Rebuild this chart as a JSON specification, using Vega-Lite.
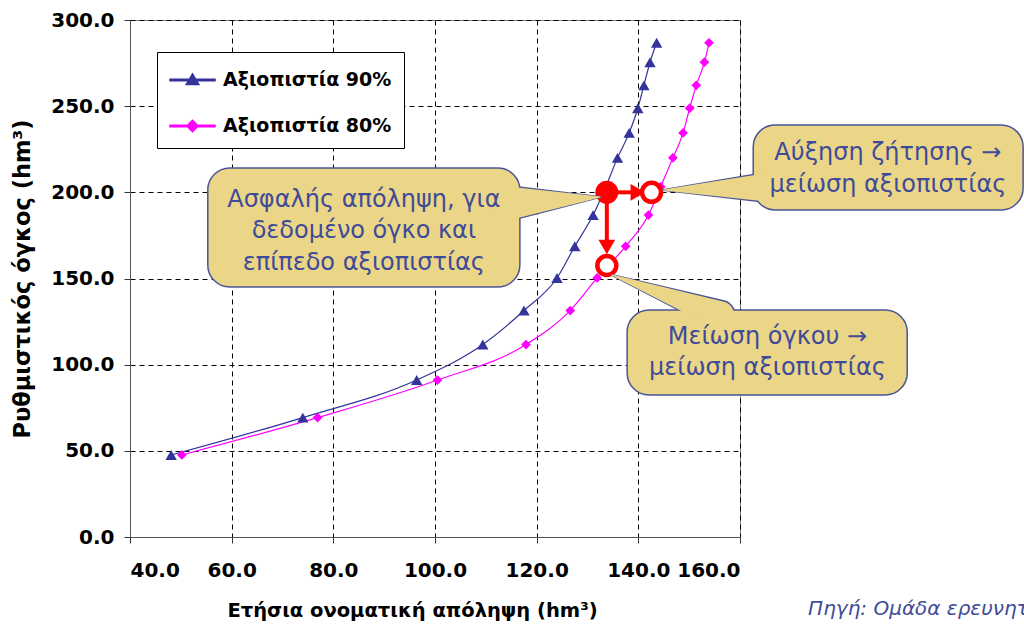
{
  "$schema": "https://vega.github.io/schema/vega-lite/v6.json",
  "width": 610,
  "height": 517,
  "autosize": {"type": "none"},
  "padding": {"left": 130, "top": 20, "right": 284, "bottom": 89},
  "background": "white",
  "config": {
    "view": {"stroke": "#808080", "strokeWidth": 1},
    "font": "DejaVu Sans",
    "axis": {
      "grid": true,
      "gridColor": "#000000",
      "gridDash": [5, 4],
      "gridWidth": 1,
      "gridOpacity": 1,
      "domainColor": "#555555",
      "tickColor": "#333333",
      "tickSize": 6,
      "labelFont": "DejaVu Sans",
      "labelFontWeight": "bold",
      "labelFontSize": 20,
      "labelColor": "#000000",
      "titleFont": "DejaVu Sans",
      "titleFontWeight": "bold",
      "titleColor": "#000000"
    },
    "legend": {
      "orient": "none",
      "legendX": 27,
      "legendY": 32,
      "strokeColor": "#000000",
      "fillColor": "#ffffff",
      "padding": 12,
      "rowPadding": 20,
      "labelOffset": 22,
      "labelLimit": 400,
      "symbolSize": 900,
      "labelFont": "DejaVu Sans",
      "labelFontWeight": "bold",
      "labelFontSize": 19,
      "labelColor": "#000000"
    }
  },
  "datasets": {
    "series": [
      {"series": "Αξιοπιστία 90%", "x": 48.1, "y": 47.6},
      {"series": "Αξιοπιστία 90%", "x": 74.0, "y": 69.3},
      {"series": "Αξιοπιστία 90%", "x": 96.4, "y": 91.1},
      {"series": "Αξιοπιστία 90%", "x": 109.4, "y": 111.7},
      {"series": "Αξιοπιστία 90%", "x": 117.5, "y": 131.4},
      {"series": "Αξιοπιστία 90%", "x": 124.0, "y": 150.3},
      {"series": "Αξιοπιστία 90%", "x": 127.5, "y": 168.7},
      {"series": "Αξιοπιστία 90%", "x": 131.1, "y": 186.8},
      {"series": "Αξιοπιστία 90%", "x": 133.6, "y": 203.3},
      {"series": "Αξιοπιστία 90%", "x": 135.9, "y": 220.0},
      {"series": "Αξιοπιστία 90%", "x": 138.2, "y": 234.5},
      {"series": "Αξιοπιστία 90%", "x": 139.9, "y": 248.8},
      {"series": "Αξιοπιστία 90%", "x": 141.1, "y": 262.1},
      {"series": "Αξιοπιστία 90%", "x": 142.3, "y": 275.5},
      {"series": "Αξιοπιστία 90%", "x": 143.6, "y": 286.8},
      {"series": "Αξιοπιστία 80%", "x": 50.2, "y": 47.6},
      {"series": "Αξιοπιστία 80%", "x": 76.9, "y": 69.3},
      {"series": "Αξιοπιστία 80%", "x": 100.5, "y": 91.1},
      {"series": "Αξιοπιστία 80%", "x": 117.9, "y": 111.7},
      {"series": "Αξιοπιστία 80%", "x": 126.6, "y": 131.4},
      {"series": "Αξιοπιστία 80%", "x": 131.9, "y": 150.3},
      {"series": "Αξιοπιστία 80%", "x": 137.5, "y": 168.7},
      {"series": "Αξιοπιστία 80%", "x": 142.0, "y": 186.8},
      {"series": "Αξιοπιστία 80%", "x": 144.4, "y": 203.3},
      {"series": "Αξιοπιστία 80%", "x": 146.8, "y": 220.0},
      {"series": "Αξιοπιστία 80%", "x": 148.8, "y": 234.5},
      {"series": "Αξιοπιστία 80%", "x": 150.1, "y": 248.8},
      {"series": "Αξιοπιστία 80%", "x": 151.4, "y": 262.1},
      {"series": "Αξιοπιστία 80%", "x": 153.0, "y": 275.5},
      {"series": "Αξιοπιστία 80%", "x": 153.9, "y": 286.8}
    ],
    "circles": [
      {"kind": "filled", "x": 133.8, "y": 200.0},
      {"kind": "open", "x": 142.6, "y": 200.0},
      {"kind": "open", "x": 133.8, "y": 157.5}
    ],
    "arrows": [
      {"x": 133.8, "y": 200.0, "x2": 139.3, "y2": 200.0, "hx": 139.9, "hy": 200.0, "head": "triangle-right"},
      {"x": 133.8, "y": 200.0, "x2": 133.8, "y2": 170.0, "hx": 133.8, "hy": 168.3, "head": "triangle-down"}
    ],
    "boxes": [
      {"id": 1, "x": 55.3, "x2": 116.7, "y": 145.1, "y2": 214.1, "tx": 86.0, "ty": 195.6,
       "label": ["Ασφαλής απόληψη, για", "δεδομένο όγκο και", "επίπεδο αξιοπιστίας"]},
      {"id": 2, "x": 162.6, "x2": 215.7, "y": 189.8, "y2": 239.1, "tx": 189.1, "ty": 222.8,
       "label": ["Αύξηση ζήτησης →", "μείωση αξιοπιστίας"]},
      {"id": 3, "x": 137.8, "x2": 192.9, "y": 82.4, "y2": 131.7, "tx": 165.4, "ty": 116.2,
       "label": ["Μείωση όγκου →", "μείωση αξιοπιστίας"]}
    ],
    "pointers": [
      {"id": 1, "ord": 0, "x": 132.5, "y": 197.3, "w": 0, "wo": 2},
      {"id": 1, "ord": 1, "x": 113.8, "y": 193.5, "w": 35, "wo": 38},
      {"id": 2, "ord": 0, "x": 144.9, "y": 201.4, "w": 0, "wo": 2},
      {"id": 2, "ord": 1, "x": 164.9, "y": 202.8, "w": 28, "wo": 31},
      {"id": 3, "ord": 0, "x": 134.8, "y": 152.0, "w": 0, "wo": 2},
      {"id": 3, "ord": 1, "x": 156.1, "y": 128.8, "w": 28, "wo": 31}
    ],
    "source": [
      {"x": 173.4, "y": -45.3, "text": "Πηγή: Ομάδα ερευνητών ΕΜΠ"}
    ]
  },
  "layer": [
    {
      "data": {"name": "series"},
      "mark": {"type": "line", "interpolate": "monotone", "strokeWidth": 1.2},
      "encoding": {
        "x": {"field": "x", "type": "quantitative",
              "scale": {"domain": [40, 160], "nice": false, "zero": false},
              "axis": {"values": [40, 60, 80, 100, 120, 140, 160], "format": ".1f",
                       "title": "Ετήσια ονοματική απόληψη (hm³)", "labelPadding": 17,
                       "titleFontSize": 19.5, "titlePadding": 21, "titleX": 282}},
        "y": {"field": "y", "type": "quantitative",
              "scale": {"domain": [0, 300], "nice": false, "zero": false},
              "axis": {"values": [0, 50, 100, 150, 200, 250, 300], "format": ".1f",
                       "title": "Ρυθμιστικός όγκος (hm³)", "labelPadding": 10,
                       "titleFontSize": 22.5, "titlePadding": 16}},
        "color": {"field": "series", "type": "nominal",
                  "scale": {"domain": ["Αξιοπιστία 90%", "Αξιοπιστία 80%"], "range": ["#333399", "#FF00FF"]},
                  "legend": {"title": null}},
        "order": {"field": "y", "type": "quantitative"}
      }
    },
    {
      "data": {"name": "series"},
      "transform": [{"filter": "datum.series === 'Αξιοπιστία 90%'"}],
      "mark": {"type": "point", "shape": "triangle-up", "filled": true, "opacity": 1, "size": 130},
      "encoding": {
        "x": {"field": "x", "type": "quantitative"},
        "y": {"field": "y", "type": "quantitative"},
        "color": {"field": "series", "type": "nominal"}
      }
    },
    {
      "data": {"name": "series"},
      "transform": [{"filter": "datum.series === 'Αξιοπιστία 80%'"}],
      "mark": {"type": "point", "shape": "diamond", "filled": true, "opacity": 1, "size": 95},
      "encoding": {
        "x": {"field": "x", "type": "quantitative"},
        "y": {"field": "y", "type": "quantitative"},
        "color": {"field": "series", "type": "nominal"}
      }
    },
    {
      "data": {"name": "series"},
      "transform": [{"filter": "false"}],
      "mark": {"type": "point", "filled": true, "opacity": 1, "size": 900},
      "encoding": {
        "x": {"field": "x", "type": "quantitative"},
        "y": {"field": "y", "type": "quantitative"},
        "color": {"field": "series", "type": "nominal"},
        "shape": {"field": "series", "type": "nominal",
                  "scale": {"domain": ["Αξιοπιστία 90%", "Αξιοπιστία 80%"],
                            "range": ["M-1,-0.045H2V0.045H-1Z M0.5,-0.4L0.92,0.3L0.08,0.3Z",
                                      "M-1,-0.045H2V0.045H-1Z M0.5,-0.38L0.88,0L0.5,0.38L0.12,0Z"]},
                  "legend": {"title": null}}
      }
    },
    {
      "data": {"name": "arrows"},
      "mark": {"type": "rule", "color": "#FF0000", "strokeWidth": 4},
      "encoding": {
        "x": {"field": "x", "type": "quantitative"},
        "y": {"field": "y", "type": "quantitative"},
        "x2": {"field": "x2"},
        "y2": {"field": "y2"}
      }
    },
    {
      "data": {"name": "arrows"},
      "mark": {"type": "point", "filled": true, "color": "#FF0000", "opacity": 1, "size": 280},
      "encoding": {
        "x": {"field": "hx", "type": "quantitative"},
        "y": {"field": "hy", "type": "quantitative"},
        "shape": {"field": "head", "type": "nominal", "scale": null}
      }
    },
    {
      "data": {"name": "circles"},
      "transform": [{"filter": "datum.kind === 'filled'"}],
      "mark": {"type": "point", "shape": "circle", "filled": true, "color": "#FF0000", "opacity": 1, "size": 530},
      "encoding": {
        "x": {"field": "x", "type": "quantitative"},
        "y": {"field": "y", "type": "quantitative"}
      }
    },
    {
      "data": {"name": "circles"},
      "transform": [{"filter": "datum.kind === 'open'"}],
      "mark": {"type": "point", "shape": "circle", "fill": "#FFFFFF", "stroke": "#FF0000", "strokeWidth": 4.5, "opacity": 1, "fillOpacity": 1, "size": 360},
      "encoding": {
        "x": {"field": "x", "type": "quantitative"},
        "y": {"field": "y", "type": "quantitative"}
      }
    },
    {
      "data": {"name": "pointers"},
      "mark": {"type": "trail", "color": "#4A5595", "opacity": 1},
      "encoding": {
        "x": {"field": "x", "type": "quantitative"},
        "y": {"field": "y", "type": "quantitative"},
        "detail": {"field": "id", "type": "nominal"},
        "order": {"field": "ord", "type": "quantitative"},
        "size": {"field": "wo", "type": "quantitative", "scale": null}
      }
    },
    {
      "data": {"name": "boxes"},
      "mark": {"type": "rect", "fill": "#EBD688", "stroke": "#4A5595", "strokeWidth": 1.5, "opacity": 1, "cornerRadius": 22},
      "encoding": {
        "x": {"field": "x", "type": "quantitative"},
        "x2": {"field": "x2"},
        "y": {"field": "y", "type": "quantitative"},
        "y2": {"field": "y2"}
      }
    },
    {
      "data": {"name": "pointers"},
      "mark": {"type": "trail", "color": "#EBD688", "opacity": 1},
      "encoding": {
        "x": {"field": "x", "type": "quantitative"},
        "y": {"field": "y", "type": "quantitative"},
        "detail": {"field": "id", "type": "nominal"},
        "order": {"field": "ord", "type": "quantitative"},
        "size": {"field": "w", "type": "quantitative", "scale": null}
      }
    },
    {
      "data": {"name": "boxes"},
      "mark": {"type": "text", "font": "DejaVu Sans", "fontSize": 24, "color": "#3F4B98", "align": "center", "baseline": "middle", "lineHeight": 31.5},
      "encoding": {
        "x": {"field": "tx", "type": "quantitative"},
        "y": {"field": "ty", "type": "quantitative"},
        "text": {"field": "label"}
      }
    },
    {
      "data": {"name": "source"},
      "mark": {"type": "text", "font": "DejaVu Sans", "fontSize": 20, "fontStyle": "italic", "color": "#3F4B98", "align": "left", "baseline": "alphabetic"},
      "encoding": {
        "x": {"field": "x", "type": "quantitative"},
        "y": {"field": "y", "type": "quantitative"},
        "text": {"field": "text"}
      }
    }
  ]
}
